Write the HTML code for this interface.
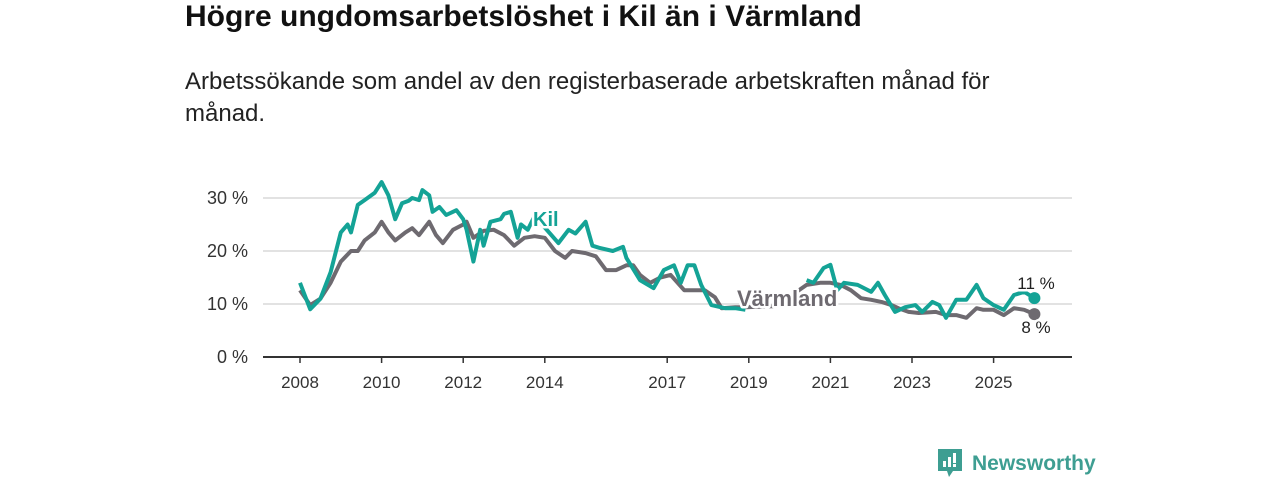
<!DOCTYPE html>
<html lang="sv"><head><meta charset="utf-8">
<style>
html,body{margin:0;padding:0;background:#fff;width:1280px;height:480px;overflow:hidden;font-family:"Liberation Sans",sans-serif;}
#title{position:absolute;left:185px;top:0px;font-size:30px;font-weight:bold;color:#111;margin:0;white-space:nowrap;}
#subtitle{position:absolute;left:185px;top:66px;font-size:24px;line-height:32px;color:#222;width:850px;margin:0;}
svg{position:absolute;left:0;top:0;}
</style></head><body>
<h1 id="title">Högre ungdomsarbetslöshet i Kil än i Värmland</h1>
<p id="subtitle">Arbetssökande som andel av den registerbaserade arbetskraften månad för månad.</p>
<svg id="chart" width="1280" height="480"></svg>
<script>
// months since 2008-01
const kilMonths=[0,3,6,9,12,14,15,17,19,22,24,26,28,30,32,33,35,36,38,39,41,43,45,46,48,49,51,53,54,56,59,60,62,64,65,67,69,76,79,81,84,86,88,92,95,96,100,104,107,110,112,114,116,118,121,125,128,131,null,149,151,154,156,158,160,164,168,170,172,175,178,181,183,186,188,190,193,196,199,201,204,207,210,213,216];
const kilValues=[14,9,11,16,23.5,25,23.5,28.7,29.6,31,33,30.5,26,29,29.5,30,29.6,31.5,30.5,27.4,28.3,26.8,27.4,27.7,26,24,18,24,21,25.5,26,27,27.4,22.5,25,24,26.6,21.5,24,23.3,25.5,21,20.6,20,20.8,18.7,14.5,13,16.4,17.3,14,17.3,17.3,13.6,9.8,9.2,9.2,8.9,null,14.5,14,16.8,17.4,12.6,14,13.6,12.3,14,11.7,8.5,9.4,9.8,8.5,10.4,9.8,7.4,10.8,10.8,13.6,11.1,9.8,8.9,11.7,12.3,11.1];
const varMonths=[0,3,6,9,12,15,17,19,22,24,26,28,31,33,35,38,40,42,45,48,49,51,54,57,60,63,66,69,72,75,78,80,84,87,90,93,96,98,100,103,106,109,113,116,119,122,124,128,131,140,149,153,156,159,162,165,168,171,174,176,179,182,187,190,193,196,199,201,204,207,210,213,216];
const varValues=[12.6,9.8,11,14,18,20,20,22,23.5,25.5,23.5,22,23.5,24.3,23,25.5,23,21.5,24,25,25.5,22.5,23.8,24,23,21,22.5,22.8,22.5,20,18.7,20,19.6,19,16.4,16.4,17.3,17.3,15.5,14,15,15.5,12.6,12.6,12.6,11.3,9.2,9.4,9.4,9.6,13.6,14,14,13.6,12.6,11.1,10.8,10.4,9.8,9.2,8.5,8.3,8.5,7.9,7.9,7.4,9.2,8.9,8.9,7.9,9.2,8.9,8.1];
const yTicks=[0,10,20,30];
const xTickYears=[2008,2010,2012,2014,2017,2019,2021,2023,2025];

const NS="http://www.w3.org/2000/svg";
const svg=document.getElementById('chart');
const xOf=m=>300+m*(40.8/12);
const yOf=v=>357-v*5.3;
function mk(t,a,p){const e=document.createElementNS(NS,t);for(const k in a)e.setAttribute(k,a[k]);(p||svg).appendChild(e);return e;}

yTicks.forEach(v=>{
  if(v>0){const g=mk('line',{x1:263,x2:1072,y1:yOf(v),y2:yOf(v),stroke:'#d9d9d9','stroke-width':1.5});
  
  }
  const t=mk('text',{x:248,y:yOf(v)+6,'text-anchor':'end','font-size':18,fill:'#333','font-family':'Liberation Sans, sans-serif'});
  t.textContent=v+' %';
  
  
});
const ax=mk('line',{x1:263,x2:1072,y1:357,y2:357,stroke:'#333','stroke-width':2});


xTickYears.forEach(yr=>{
  const x=xOf((yr-2008)*12);
  const tk=mk('line',{x1:x,x2:x,y1:357,y2:363,stroke:'#333','stroke-width':1.5});
  
  
  const t=mk('text',{x:x,y:388,'text-anchor':'middle','font-size':17,fill:'#333','font-family':'Liberation Sans, sans-serif'});
  t.textContent=yr;
  
  
});
function pathFor(ms,vs){let d='',pen=false;ms.forEach((m,i)=>{if(m===null||vs[i]===null){pen=false;return;}d+=(pen?'L':'M')+xOf(m).toFixed(1)+','+yOf(vs[i]).toFixed(1);pen=true;});return d;}
const vl=mk('path',{d:pathFor(varMonths,varValues),fill:'none',stroke:'#6e6a70','stroke-width':4,'stroke-linejoin':'round'});


const kl=mk('path',{d:pathFor(kilMonths,kilValues),fill:'none',stroke:'#14a396','stroke-width':4,'stroke-linejoin':'round'});


const lv=varValues[varValues.length-1],lm=varMonths[varMonths.length-1];
const lk=kilValues[kilValues.length-1],lkm=kilMonths[kilMonths.length-1];
const d1=mk('circle',{cx:xOf(lm),cy:yOf(lv),r:6,fill:'#6e6a70'});


const d2=mk('circle',{cx:xOf(lkm),cy:yOf(lk),r:6,fill:'#14a396'});


function label(txt,x,y,col,size,bold,name,anchor){
  const t=mk('text',{x:x,y:y,'font-size':size,'font-weight':bold?'bold':'normal',fill:col,stroke:'#fff','stroke-width':5,'paint-order':'stroke','stroke-linejoin':'round','text-anchor':anchor||'start','font-family':'Liberation Sans, sans-serif'});
  t.textContent=txt;
  
  
}
label('Kil',533,226,'#14a396',20,true,'kil-series-label');
label('Värmland',737,306,'#6e6a70',22,true,'varmland-series-label');
label(Math.round(lk)+' %',1036,289,'#222',17,false,'kil-end-label','middle');
label(Math.round(lv)+' %',1036,333,'#222',17,false,'varmland-end-label','middle');
</script>
<div style="position:absolute;left:938px;top:449px;display:flex;align-items:center;">
  <svg width="26" height="30" style="position:static"><path d="M0 0H24V22H15L11 28L9 22H0Z" fill="#3e9e92"/><rect x="5" y="12" width="3" height="6" fill="#fff"/><rect x="10" y="8" width="3" height="10" fill="#fff"/><rect x="15" y="4" width="3" height="10" fill="#fff"/><rect x="15" y="15" width="3" height="3" fill="#fff"/></svg>
  <span style="margin-left:8px;font-size:21px;font-weight:bold;color:#3e9e92;">Newsworthy</span>
</div>
</body></html>
